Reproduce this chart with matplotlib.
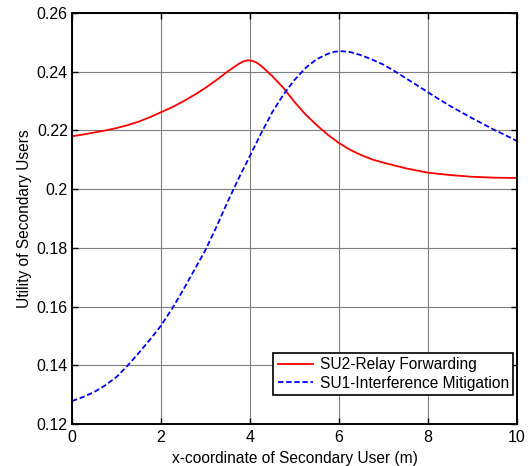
import matplotlib
matplotlib.use("Agg")
import matplotlib.pyplot as plt
from matplotlib.ticker import FuncFormatter

plt.rcParams['font.family'] = ['Liberation Sans', 'DejaVu Sans']

x_red = [0, 0.25, 0.5, 0.75, 1, 1.25, 1.5, 1.75, 2, 2.25, 2.5, 2.75, 3, 3.25, 3.5,
         3.75, 3.85, 3.95, 4.05, 4.15, 4.25, 4.5, 4.75, 5, 5.25, 5.5, 5.75, 6, 6.25,
         6.5, 6.75, 7, 7.5, 8, 8.5, 9, 9.5, 10]
y_red = [0.2180, 0.2186, 0.2193, 0.2200, 0.2208, 0.2218, 0.2230, 0.2245, 0.2262,
         0.2279, 0.2299, 0.2321, 0.2345, 0.2372, 0.2401, 0.2427, 0.2435, 0.2439,
         0.2437, 0.2431, 0.2420, 0.2385, 0.2345, 0.2297, 0.2254, 0.2218, 0.2185,
         0.2157, 0.2134, 0.2116, 0.2101, 0.2090, 0.2071, 0.2056, 0.2048, 0.2042,
         0.2039, 0.2038]

x_blue = [0, 0.25, 0.5, 0.75, 1, 1.25, 1.5, 1.75, 2, 2.25, 2.5, 2.75, 3, 3.25, 3.5,
          3.75, 4, 4.25, 4.5, 4.75, 5, 5.25, 5.5, 5.75, 5.9, 6.05, 6.25, 6.5, 6.75,
          7, 7.25, 7.5, 7.75, 8, 8.25, 8.5, 8.75, 9, 9.25, 9.5, 9.75, 10]
y_blue = [0.1278, 0.1292, 0.1309, 0.1332, 0.1360, 0.1399, 0.1442, 0.1487, 0.1535,
          0.1593, 0.1657, 0.1725, 0.1793, 0.1873, 0.1958, 0.2038, 0.2114, 0.2190,
          0.2262, 0.2322, 0.2372, 0.2413, 0.2443, 0.2461, 0.2468, 0.2470, 0.2467,
          0.2456, 0.2441, 0.2424, 0.2402, 0.2378, 0.2354, 0.2330, 0.2306, 0.2283,
          0.2262, 0.2241, 0.2221, 0.2201, 0.2183, 0.2164]

labels = ['SU2-Relay Forwarding', 'SU1-Interference Mitigation']
xticks = [0, 2, 4, 6, 8, 10]
yticks = [0.12, 0.14, 0.16, 0.18, 0.20, 0.22, 0.24, 0.26]

fig = plt.figure(figsize=(5.31, 4.66), dpi=100)
ax = fig.add_axes([72/531, (466-424)/466, 445/531, 411/466])

ax.plot(x_red, y_red, color='#ff0000', lw=1.3, ls='-', label=labels[0])
ax.plot(x_blue, y_blue, color='#0000ff', lw=1.3, ls=(0, (3, 1.5)), label=labels[1])

ax.set_xlim(0, 10)
ax.set_ylim(0.12, 0.26)
ax.set_xticks(xticks)
ax.set_yticks(yticks)
ax.xaxis.set_major_formatter(FuncFormatter(lambda v, p: '%g' % round(v, 4)))
ax.yaxis.set_major_formatter(FuncFormatter(lambda v, p: '%g' % round(v, 4)))
ax.tick_params(direction='in', top=True, right=True, length=4, width=1, labelsize=11.5, pad=3)
ax.tick_params(axis='x', pad=4)
ax.grid(True, color='#7f7f7f', lw=0.8, ls='-')
ax.set_axisbelow(True)
for s in ax.spines.values():
    s.set_linewidth(1.4)
    s.set_color('black')

ax.set_xlabel('x-coordinate of Secondary User (m)', fontsize=11.2, labelpad=5)
ax.set_ylabel('Utility of Secondary Users', fontsize=11.2, labelpad=3)

leg = ax.legend(loc='lower right', bbox_to_anchor=(0.992, 0.07), fontsize=11.2,
                fancybox=False, framealpha=1, edgecolor='black', handlelength=2.3,
                borderpad=0.3, labelspacing=0.2, handletextpad=0.4, borderaxespad=0)
leg.get_frame().set_linewidth(1.2)

fig.savefig('out.png', dpi=100)
